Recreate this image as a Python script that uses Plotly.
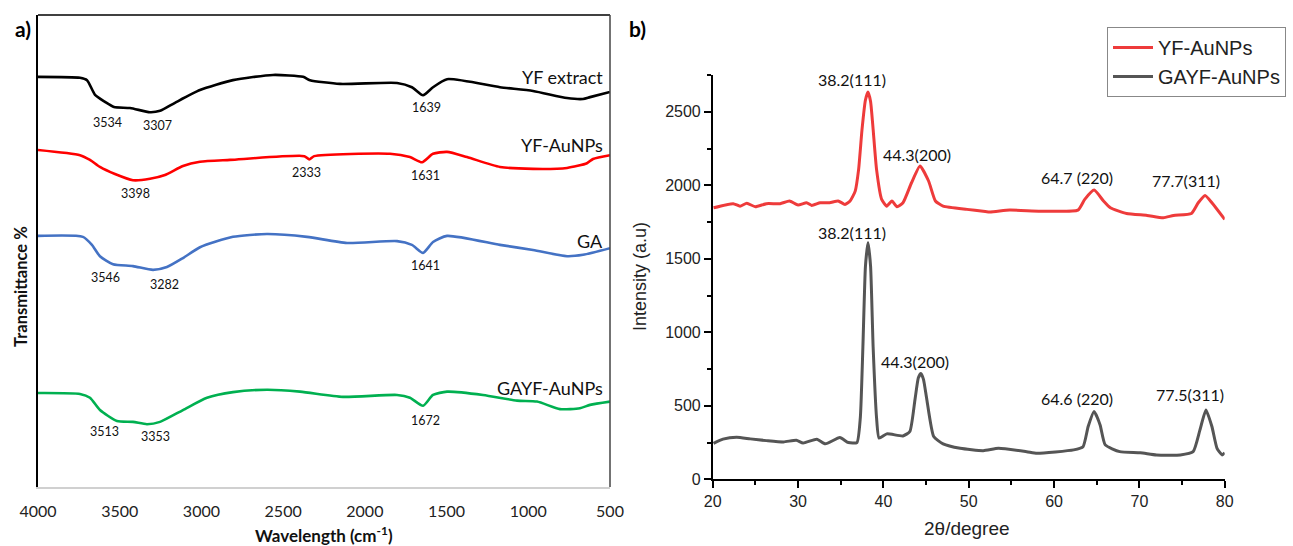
import plotly.graph_objects as go

# ---------------- Panel a: FTIR ----------------
yf_wn = [4000, 3743, 3700, 3651, 3590, 3535, 3437, 3315, 3253, 3162, 3009, 2807, 2562, 2378, 2336,
         2152, 1803, 1712, 1644, 1583, 1497, 1173, 971, 763, 665, 622, 500]
yf_t = [86.9, 86.7, 86.2, 83.1, 81.6, 80.5, 80.3, 79.4, 79.7, 81.4, 84.1, 86.2, 87.3, 86.9, 86.2,
        85.4, 85.6, 84.7, 83.0, 84.7, 86.4, 84.7, 83.9, 82.4, 82.2, 82.6, 83.7]

yfau_wn = [4000, 3743, 3682, 3621, 3529, 3419, 3315, 3223, 3113, 3009, 2825, 2370, 2340, 2310,
           1846, 1724, 1650, 1583, 1497, 1375, 1173, 971, 763, 641, 604, 500]
yfau_t = [71.4, 70.3, 69.3, 67.8, 66.3, 65.0, 65.3, 66.1, 68.0, 68.9, 69.3, 70.1, 69.4, 70.1,
          70.6, 69.9, 68.8, 70.6, 71.0, 69.9, 67.8, 67.4, 67.6, 68.6, 69.5, 70.3]

ga_wn = [4000, 3725, 3670, 3621, 3541, 3419, 3296, 3211, 3113, 3009, 2807, 2599, 2354, 2109,
         1803, 1712, 1644, 1583, 1497, 1173, 971, 763, 665, 500]
ga_t = [53.2, 53.0, 51.3, 48.9, 47.2, 46.8, 46.0, 46.6, 48.5, 50.8, 53.0, 53.6, 53.0, 51.7,
        52.1, 51.3, 49.6, 51.9, 53.2, 51.3, 50.2, 48.9, 49.2, 50.6]

gayf_wn = [4000, 3743, 3682, 3621, 3517, 3419, 3333, 3253, 3113, 2966, 2807, 2599, 2397, 2134,
           1803, 1724, 1644, 1583, 1497, 1277, 1069, 947, 806, 684, 622, 500]
gayf_t = [19.9, 19.7, 18.9, 16.3, 14.0, 13.8, 13.3, 13.8, 16.3, 18.9, 20.1, 20.6, 20.2, 19.1,
          19.5, 18.9, 17.2, 19.5, 20.2, 19.5, 18.3, 18.1, 16.5, 16.7, 17.4, 18.1]

ftir_names = ["YF extract", "YF-AuNPs", "GA", "GAYF-AuNPs"]
ftir_name_t = [86.9, 72.5, 52.1, 21.0]

ftir_peak_text = ["3534", "3307", "1639", "3398", "2333", "1631", "3546", "3282", "1641", "3513", "3353", "1672"]
ftir_peak_wn = [3572, 3266, 1620, 3406, 2360, 1626, 3590, 3229, 1626, 3596, 3284, 1632]
ftir_peak_t = [77.3, 76.5, 80.5, 62.1, 66.7, 65.9, 44.3, 43.0, 47.0, 11.7, 10.6, 14.0]

wn_ticks = [4000, 3500, 3000, 2500, 2000, 1500, 1000, 500]

# ---------------- Panel b: XRD ----------------
xrd_yf_2t = [20.1, 22.4, 23.2, 24.0, 25.0, 26.3, 27.9, 29.0, 30.0, 31.0, 31.6, 32.6, 33.7, 34.7, 35.5,
             36.1, 36.7, 37.1, 37.5, 37.9, 38.2, 38.5, 38.8, 39.2, 39.8, 40.4, 41.0, 41.6, 42.3, 43.3,
             44.3, 45.3, 46.1, 47.0, 49.8, 51.7, 52.5, 54.8, 58.4, 62.8, 63.6, 64.7, 65.8, 66.6, 68.5,
             70.9, 72.8, 74.0, 76.1, 76.9, 77.7, 78.5, 80.0]
xrd_yf_i = [1847, 1875, 1858, 1877, 1854, 1875, 1875, 1893, 1865, 1881, 1863, 1881, 1881, 1893, 1870,
            1893, 1960, 2108, 2380, 2580, 2635, 2570, 2380, 2108, 1904, 1858, 1893, 1854, 1881, 2017,
            2131, 2029, 1893, 1858, 1836, 1824, 1818, 1831, 1824, 1831, 1904, 1967, 1893, 1847, 1808,
            1795, 1779, 1795, 1808, 1881, 1931, 1881, 1768]

xrd_gayf_2t = [20.1, 21.2, 22.8, 24.4, 26.3, 28.3, 29.8, 30.6, 32.2, 33.2, 34.9, 35.9, 36.9, 37.3,
               37.6, 37.9, 38.2, 38.5, 38.8, 39.2, 39.5, 40.4, 42.3, 43.1, 43.7, 44.1, 44.4, 44.7,
               45.1, 45.9, 47.0, 49.0, 51.7, 53.5, 56.8, 58.0, 62.3, 63.4, 64.0, 64.7, 65.4, 66.0,
               67.7, 70.1, 72.0, 74.8, 76.3, 77.1, 77.8, 78.5, 79.1, 79.7, 80.0]
xrd_gayf_i = [245, 273, 286, 275, 263, 254, 266, 247, 273, 241, 284, 250, 250, 420,
              900, 1450, 1610, 1450, 900, 420, 280, 309, 295, 325, 540, 690, 720, 680,
              540, 291, 241, 211, 195, 211, 188, 177, 200, 222, 359, 461, 370, 234,
              188, 181, 166, 166, 188, 336, 472, 359, 211, 166, 181]

xrd_label_text = ["38.2(111)", "44.3(200)", "64.7 (220)", "77.7(311)",
                  "38.2(111)", "44.3(200)", "64.6 (220)", "77.5(311)"]
xrd_label_2t = [36.3, 43.9, 62.7, 75.5, 36.3, 43.7, 62.7, 75.9]
xrd_label_i = [2722, 2211, 2052, 2029, 1677, 802, 552, 575]

FONT_A = "Lato, 'Open Sans', sans-serif"
FONT_B = "Arial, 'Liberation Sans', sans-serif"

fig = go.Figure()

ftir_series = [(yf_wn, yf_t, "#000000"), (yfau_wn, yfau_t, "#ff0000"),
               (ga_wn, ga_t, "#4472c4"), (gayf_wn, gayf_t, "#00b050")]
for (wn, t, c), nm in zip(ftir_series, ftir_names):
    fig.add_trace(go.Scatter(x=wn, y=t, mode="lines", name=nm, showlegend=False,
                             line=dict(color=c, width=2.6, shape="spline", smoothing=0.6),
                             xaxis="x", yaxis="y"))

fig.add_trace(go.Scatter(x=xrd_yf_2t, y=xrd_yf_i, mode="lines", name="YF-AuNPs",
                         line=dict(color="#ee3b3b", width=3, shape="spline", smoothing=0.5),
                         xaxis="x2", yaxis="y2"))
fig.add_trace(go.Scatter(x=xrd_gayf_2t, y=xrd_gayf_i, mode="lines", name="GAYF-AuNPs",
                         line=dict(color="#555555", width=3, shape="spline", smoothing=0.5),
                         xaxis="x2", yaxis="y2"))

ann = []
for nm, t in zip(ftir_names, ftir_name_t):
    ann.append(dict(x=532, y=t, xref="x", yref="y", text=nm, showarrow=False,
                    xanchor="right", yanchor="middle",
                    font=dict(family=FONT_A, size=18, color="#111")))
for txt, w, t in zip(ftir_peak_text, ftir_peak_wn, ftir_peak_t):
    ann.append(dict(x=w, y=t, xref="x", yref="y", text=txt, showarrow=False,
                    xanchor="center", yanchor="middle",
                    font=dict(family=FONT_A, size=12.5, color="#111")))
for txt, a, b in zip(xrd_label_text, xrd_label_2t, xrd_label_i):
    ann.append(dict(x=a, y=b, xref="x2", yref="y2", text=txt, showarrow=False,
                    xanchor="center", yanchor="middle",
                    font=dict(family=FONT_A, size=16, color="#111")))


def paper_text(px, py, text, font, angle=0):
    return dict(x=px / 1293, y=1 - py / 546, xref="paper", yref="paper", text=text,
                showarrow=False, xanchor="center", yanchor="middle", textangle=angle, font=font)


ann.append(paper_text(23, 28, "<b>a)</b>", dict(family=FONT_A, size=21, color="#000")))
ann.append(paper_text(637, 28, "<b>b)</b>", dict(family=FONT_A, size=21, color="#000")))
ann.append(paper_text(324, 534, "<b>Wavelength (cm<sup>-1</sup>)</b>",
                      dict(family=FONT_A, size=17, color="#111")))
ann.append(paper_text(21, 287, "<b>Transmittance %</b>",
                      dict(family=FONT_A, size=16.5, color="#111"), -90))
ann.append(paper_text(967, 528, "2θ/degree", dict(family=FONT_B, size=19, color="#222")))
ann.append(paper_text(640, 277, "Intensity (a.u)", dict(family=FONT_B, size=18, color="#222"), -90))

shapes = [
    dict(type="line", xref="x domain", yref="y domain", x0=0, x1=1, y0=1, y1=1,
         line=dict(color="#000", width=1.5)),
    dict(type="line", xref="x domain", yref="y domain", x0=1, x1=1, y0=0, y1=1,
         line=dict(color="#444", width=1.5)),
]

fig.update_layout(
    width=1293, height=546,
    margin=dict(l=0, r=0, t=0, b=0, autoexpand=False),
    paper_bgcolor="white", plot_bgcolor="white",
    annotations=ann, shapes=shapes,
    xaxis=dict(domain=[38 / 1293, 610 / 1293], range=[4000, 500], tickvals=wn_ticks,
               automargin=False,
               showgrid=False, zeroline=False, showline=True, linecolor="#d0d0d0", linewidth=2,
               ticks="outside", ticklen=9, tickcolor="rgba(0,0,0,0)",
               tickfont=dict(family=FONT_A, size=16, color="#222")),
    yaxis=dict(domain=[1 - 487 / 546, 1 - 15 / 546], range=[0, 100], showticklabels=False,
               automargin=False,
               showgrid=False, zeroline=False, showline=True, linecolor="#000", linewidth=2,
               ticks=""),
    xaxis2=dict(domain=[712.7 / 1293, 1224.7 / 1293], range=[20, 80], anchor="y2",
                automargin=False,
                tickvals=[20, 30, 40, 50, 60, 70, 80],
                minor=dict(tickvals=[25, 35, 45, 55, 65, 75], ticks="outside", ticklen=4,
                           tickcolor="#000", tickwidth=1.5),
                showgrid=False, zeroline=False, showline=True, linecolor="#000", linewidth=1.5,
                ticks="outside", ticklen=7, tickwidth=1.5, tickcolor="#000",
                tickfont=dict(family=FONT_B, size=16, color="#222")),
    yaxis2=dict(domain=[1 - 479.3 / 546, 1 - 75 / 546], range=[0, 2750], anchor="x2",
                automargin=False,
                tickvals=[0, 500, 1000, 1500, 2000, 2500],
                minor=dict(tickvals=[250, 750, 1250, 1750, 2250, 2750], ticks="outside", ticklen=4,
                           tickcolor="#000", tickwidth=1.5),
                showgrid=False, zeroline=False, showline=True, linecolor="#000", linewidth=1.5,
                ticks="outside", ticklen=7, tickwidth=1.5, tickcolor="#000",
                tickfont=dict(family=FONT_B, size=16, color="#222")),
    showlegend=True,
    legend=dict(x=1107 / 1293, y=1 - 27 / 546, xanchor="left", yanchor="top",
                bgcolor="white", bordercolor="#888", borderwidth=1,
                font=dict(family=FONT_B, size=20, color="#222"),
                tracegroupgap=0, itemwidth=40),
)

fig.write_html("out.html", config={"displayModeBar": False},
               post_script="document.body.style.margin='0px';document.body.style.padding='0px';"
                           "document.body.style.overflow='hidden';")
